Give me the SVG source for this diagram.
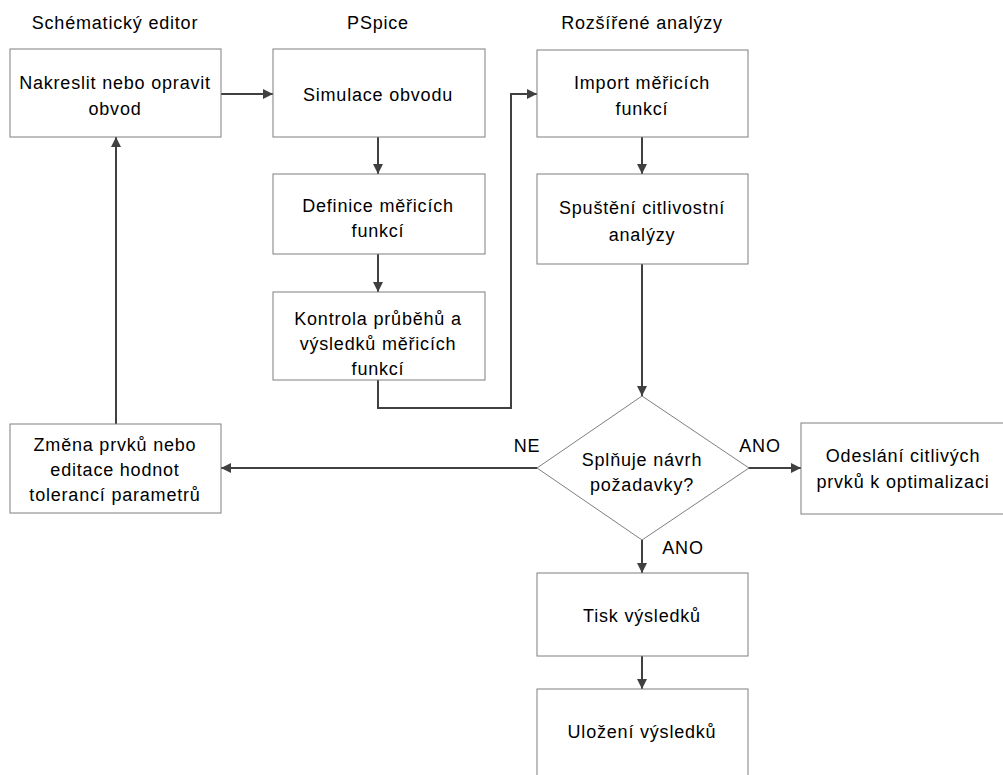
<svg xmlns="http://www.w3.org/2000/svg" width="1003" height="775" viewBox="0 0 1003 775">
<defs>
<marker id="ah" viewBox="0 0 10 10" refX="10" refY="5" markerWidth="10" markerHeight="10" markerUnits="userSpaceOnUse" orient="auto">
<path d="M0,0 L10,5 L0,10 z" fill="#404040"/>
</marker>
<style>
.box{fill:#fff;stroke:#7f7f7f;stroke-width:1}
.t{font-family:"Liberation Sans",Arial,sans-serif;font-size:18px;letter-spacing:0.8px;fill:#000;text-anchor:middle}
.c{fill:none;stroke:#404040;stroke-width:2;marker-end:url(#ah)}
</style>
</defs>
<rect width="1003" height="775" fill="#fff"/>
<g id="titles">
<text class="t" x="115" y="29">Schématický editor</text>
<text class="t" x="378" y="29">PSpice</text>
<text class="t" x="642" y="29">Rozšířené analýzy</text>
</g>
<g id="connectors">
<path class="c" d="M221,94 L273,94"/>
<path class="c" d="M378,137 L378,174"/>
<path class="c" d="M378,254 L378,292"/>
<path class="c" d="M378,380 L378,408 L511,408 L511,94 L537,94"/>
<path class="c" d="M642,137 L642,174"/>
<path class="c" d="M642,264 L642,396"/>
<path class="c" d="M537,468 L221,468"/>
<path class="c" d="M748,468 L801,468"/>
<path class="c" d="M642,540 L642,573"/>
<path class="c" d="M642,656 L642,689"/>
<path class="c" d="M116,424 L116,137"/>
<text class="t" x="527" y="452">NE</text>
<text class="t" x="760" y="452">ANO</text>
<text class="t" x="683" y="554">ANO</text>
</g>
<g id="n1"><rect class="box" x="10" y="49" width="211" height="88"/>
<text class="t" x="115" y="89">Nakreslit nebo opravit</text><text class="t" x="115" y="115">obvod</text></g>
<g id="n2"><rect class="box" x="273" y="49" width="212" height="88"/>
<text class="t" x="378" y="101">Simulace obvodu</text></g>
<g id="n3"><rect class="box" x="273" y="174" width="212" height="80"/>
<text class="t" x="378" y="212">Definice měřicích</text><text class="t" x="378" y="237">funkcí</text></g>
<g id="n4"><rect class="box" x="273" y="292" width="212" height="88"/>
<text class="t" x="378" y="325">Kontrola průběhů a</text><text class="t" x="378" y="350">výsledků měřicích</text><text class="t" x="378" y="375">funkcí</text></g>
<g id="n5"><rect class="box" x="537" y="50" width="211" height="87"/>
<text class="t" x="642" y="89">Import měřicích</text><text class="t" x="642" y="115">funkcí</text></g>
<g id="n6"><rect class="box" x="537" y="174" width="211" height="90"/>
<text class="t" x="642" y="214">Spuštění citlivostní</text><text class="t" x="642" y="241">analýzy</text></g>
<g id="n7"><path class="box" d="M642,396 L749,468 L642,540 L537,468 Z"/>
<text class="t" x="642" y="466">Splňuje návrh</text><text class="t" x="642" y="491">požadavky?</text></g>
<g id="n8"><rect class="box" x="801" y="423" width="210" height="91"/>
<text class="t" x="903" y="462">Odeslání citlivých</text><text class="t" x="903" y="488">prvků k optimalizaci</text></g>
<g id="n9"><rect class="box" x="10" y="424" width="211" height="89"/>
<text class="t" x="115" y="451">Změna prvků nebo</text><text class="t" x="115" y="476">editace hodnot</text><text class="t" x="115" y="501">tolerancí parametrů</text></g>
<g id="n10"><rect class="box" x="537" y="573" width="211" height="83"/>
<text class="t" x="642" y="622">Tisk výsledků</text></g>
<g id="n11"><rect class="box" x="537" y="689" width="211" height="100"/>
<text class="t" x="642" y="738">Uložení výsledků</text></g>
</svg>
